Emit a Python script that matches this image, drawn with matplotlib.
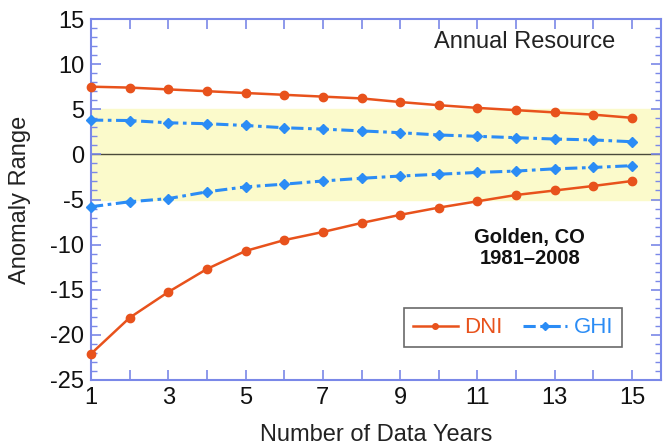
import numpy as np
import matplotlib
matplotlib.use("Agg")
import matplotlib.pyplot as plt
from matplotlib.ticker import MultipleLocator, FixedLocator

plt.rcParams['font.family'] = ['Liberation Sans', 'DejaVu Sans']
plt.rcParams['axes.unicode_minus'] = False

years = np.arange(1, 16)
dni_upper = [7.5, 7.4, 7.2, 7.0, 6.8, 6.6, 6.4, 6.2, 5.8, 5.45, 5.15, 4.9, 4.65, 4.4, 4.05]
dni_lower = [-22.1, -18.1, -15.25, -12.7, -10.7, -9.5, -8.6, -7.6, -6.7, -5.9, -5.2, -4.5, -4.0, -3.5, -2.95]
ghi_upper = [3.8, 3.75, 3.5, 3.4, 3.2, 2.95, 2.8, 2.6, 2.4, 2.15, 2.0, 1.85, 1.7, 1.6, 1.4]
ghi_lower = [-5.8, -5.25, -4.9, -4.15, -3.6, -3.3, -2.95, -2.65, -2.4, -2.2, -2.0, -1.85, -1.6, -1.45, -1.25]
band = 5
xtick_labels = [1, 3, 5, 7, 9, 11, 13, 15]

dni_col = '#e8521c'
ghi_col = '#2b8cf5'
axis_col = '#7a88e8'

fig = plt.figure(figsize=(6.63, 4.46), dpi=100)
ax = fig.add_axes([91/663, 66/446, 570/663, 361/446])

ax.axhspan(-band, band, color='#fbfacb', zorder=0)
ax.axhline(0, color='#4a4a3a', lw=1.0, zorder=1)

ax.plot(years, dni_upper, '-o', color=dni_col, lw=1.8, ms=6, label='DNI', zorder=3, clip_on=False)
ax.plot(years, dni_lower, '-o', color=dni_col, lw=1.8, ms=6, zorder=3, clip_on=False)
ax.plot(years, ghi_upper, 'D', ls=(0, (4, 1.5, 1.2, 1.5)), color=ghi_col, lw=2.2, ms=5,
        label='GHI', zorder=3, clip_on=False)
ax.plot(years, ghi_lower, 'D', ls=(0, (4, 1.5, 1.2, 1.5)), color=ghi_col, lw=2.2, ms=5,
        zorder=3, clip_on=False)

ax.set_xlim(1, 15.75)
ax.set_ylim(-25, 15)
ax.xaxis.set_major_locator(FixedLocator(xtick_labels))
ax.xaxis.set_minor_locator(MultipleLocator(1))
ax.yaxis.set_major_locator(MultipleLocator(5))
ax.yaxis.set_minor_locator(MultipleLocator(1))
ax.tick_params(which='both', direction='in', color=axis_col, top=True, right=True,
               labelsize=17, pad=5, labelcolor='#111111')
ax.tick_params(which='major', length=7, width=1.2)
ax.tick_params(which='minor', length=4, width=1.0)
ax.tick_params(axis='x', which='minor', length=7, width=1.2)
for s in ax.spines.values():
    s.set_color(axis_col)
    s.set_linewidth(1.5)

ax.set_xlabel('Number of Data Years', fontsize=17, color='#222222', labelpad=11)
ax.set_ylabel('Anomaly Range', fontsize=17, color='#222222')
ax.yaxis.set_label_coords(-0.105, 0.5)

ax.text(0.92, 0.935, 'Annual Resource', transform=ax.transAxes, ha='right', va='center',
        fontsize=17, color='#222222')
ax.text(0.77, 0.365, 'Golden, CO\n1981\u20132008', transform=ax.transAxes, ha='center',
        va='center', fontsize=14.5, fontweight='bold', color='#111111', linespacing=1.1)

leg = ax.legend(loc='lower left', bbox_to_anchor=(0.53, 0.06), ncol=2, fontsize=16,
                frameon=True, fancybox=False, edgecolor='#444444', handlelength=2.0,
                columnspacing=0.9, handletextpad=0.3, borderpad=0.4, labelcolor='linecolor')
leg.get_frame().set_linewidth(1.2)
for h in leg.legend_handles:
    h.set_markersize(4)

fig.savefig('out.png', dpi=100)
